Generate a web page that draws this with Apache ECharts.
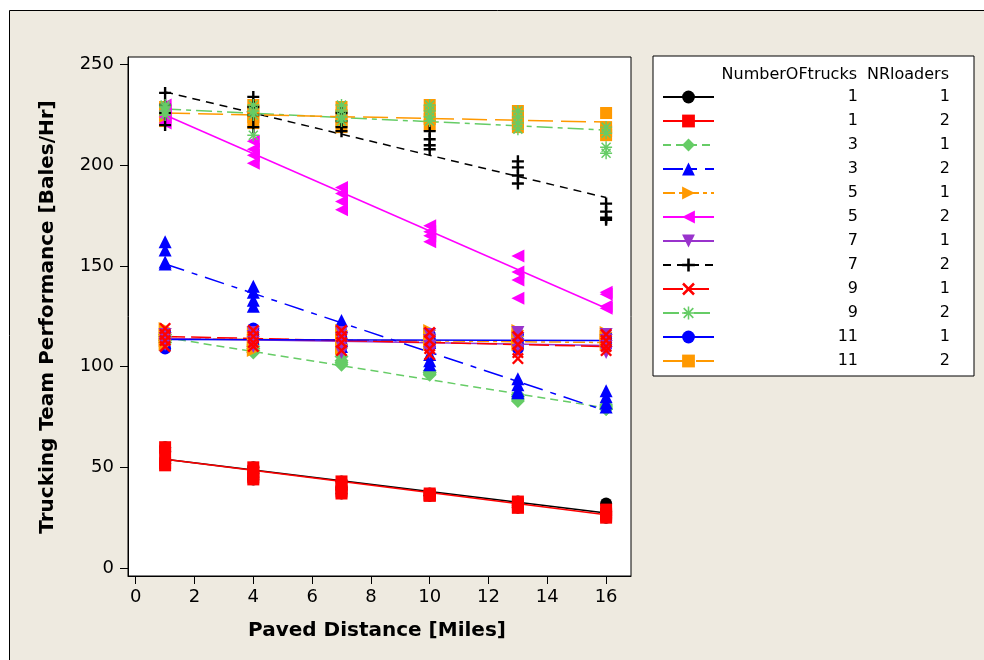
<!DOCTYPE html>
<html><head><meta charset="utf-8">
<script src="https://cdn.jsdelivr.net/npm/echarts@6/dist/echarts.min.js"></script>
<style>html,body{margin:0;padding:0;background:#fff}#c{width:984px;height:660px}</style>
</head><body><div id="c"></div>
<script>
// ---------------- data ----------------
const xValues = [1, 4, 7, 10, 13, 16];
const xTicks = [0, 2, 4, 6, 8, 10, 12, 14, 16];
const yTicks = [0, 50, 100, 150, 200, 250];
const numberOfTrucks = [1, 1, 3, 3, 5, 5, 7, 7, 9, 9, 11, 11];
const nrLoaders = [1, 2, 1, 2, 1, 2, 1, 2, 1, 2, 1, 2];

// replicate observations at each paved distance (rows follow xValues)
const t1l1 = [[60,58,53,52],[50,47,45,44],[43,40,39,37],[37,36,36,36],[33,31,30,30],[32,28,26,25]];
const t1l2 = [[60,57,52,51],[50,48,45,44],[43,41,38,37],[37,36,36,36],[33,32,30,30],[29,27,26,25]];
const t3l1 = [[116,115,113,112],[110,109,108,107],[105,103,102,101],[98,97,97,96],[86,85,84,83],[81,80,79,79]];
const t3l2 = [[162,158,152,151],[140,137,133,130],[123,120,113,110],[112,106,103,101],[94,91,88,87],[88,85,82,80]];
const t5l1 = [[119,116,113,111],[117,113,110,108],[118,114,111,109],[118,116,113,111],[118,115,113,111],[117,115,113,111]];
const t5l2 = [[230,227,224,221],[212,208,205,201],[189,186,182,178],[170,167,165,162],[155,147,143,134],[137,136,130,129]];
const t7l1 = [[116,114,112,111],[117,115,112,110],[117,114,110,107],[116,113,110,107],[117,114,111,108],[116,113,110,107]];
const t7l2 = [[236,230,226,220],[234,229,225,219],[226,222,219,217],[217,213,210,208],[202,199,195,191],[181,177,174,173]];
const t9l1 = [[119,116,113,110],[118,115,112,110],[118,115,112,108],[117,113,109,106],[115,111,107,104],[116,113,110,108]];
const t9l2 = [[230,229,227,225],[230,227,225,215],[230,227,224,222],[230,227,224,222],[227,224,221,218],[219,216,209,206]];
const t11l1 = [[117,114,112,109],[119,116,113,111],[117,114,111,110],[116,114,112,110],[116,113,111,109],[116,114,112,110]];
const t11l2 = [[229,227,225,222],[230,227,224,221],[229,225,222,219],[230,227,223,220],[227,224,221,219],[226,219,217,215]];

// fitted line values read at x = 1 and x = 16
const fitX = [1, 16];
const fitAtStart = [54, 54, 114.5, 151, 114, 225, 114, 236.5, 115, 228, 113.5, 226];
const fitAtEnd   = [27.3, 26.5, 79.5, 78, 112, 129, 110.5, 184, 110, 217.5, 113, 221.5];

const groups = [t1l1, t1l2, t3l1, t3l2, t5l1, t5l2, t7l1, t7l2, t9l1, t9l2, t11l1, t11l2];

// ---------------- styles ----------------
const FONT = 'DejaVu Sans';
const PLUS = 'path://M4,0H6V10H4Z M0,4H10V6H0Z';
const CROSS = 'path://M0,1.4L1.4,0L10,8.6L8.6,10Z M8.6,0L10,1.4L1.4,10L0,8.6Z';
const STAR = 'path://M4.4,0H5.6V10H4.4Z M0,4.4H10V5.6H0Z M0.8,1.7L1.7,0.8L9.2,8.3L8.3,9.2Z M8.3,0.8L9.2,1.7L1.7,9.2L0.8,8.3Z';
const styles = [
  {color:'#000000', symbol:'circle',   size:12, rot:0,   dash:'solid'},
  {color:'#FF0000', symbol:'rect',     size:12, rot:0,   dash:'solid'},
  {color:'#66CC66', symbol:'diamond',  size:14, rot:0,   dash:[8,5]},
  {color:'#0000FF', symbol:'triangle', size:13, rot:0,   dash:[20,8,6,8]},
  {color:'#FF9900', symbol:'triangle', size:13, rot:-90, dash:[12,4,4,4]},
  {color:'#FF00FF', symbol:'triangle', size:13, rot:90,  dash:'solid'},
  {color:'#9933CC', symbol:'triangle', size:13, rot:180, dash:'solid'},
  {color:'#000000', symbol:PLUS,       size:12, rot:0,   dash:[8,6]},
  {color:'#FF0000', symbol:CROSS,      size:12, rot:0,   dash:[20,6]},
  {color:'#66CC66', symbol:STAR,       size:12, rot:0,   dash:[16,5,5,5]},
  {color:'#0000FF', symbol:'circle',   size:12, rot:0,   dash:'solid'},
  {color:'#FF9900', symbol:'rect',     size:12, rot:0,   dash:[25,8]}
];

const names = numberOfTrucks.map((t, i) => t + ',' + nrLoaders[i]);

const series = [];
// fitted lines (first, so the legend uses them)
names.forEach((nm, i) => {
  const s = styles[i];
  series.push({
    name: nm, type: 'line', z: 2,
    data: [[fitX[0], fitAtStart[i]], [fitX[1], fitAtEnd[i]]],
    symbol: s.symbol, symbolSize: s.size, symbolRotate: s.rot, showSymbol: false,
    lineStyle: {color: s.color, width: 1.5, type: s.dash},
    itemStyle: {color: s.color},
    silent: true, animation: false
  });
});
// replicate points; draw order places 11-truck groups underneath
const drawOrder = [10, 11, 0, 1, 2, 3, 4, 5, 6, 7, 8, 9];
drawOrder.forEach(i => {
  const s = styles[i];
  const pts = [];
  groups[i].forEach((reps, k) => reps.forEach(v => pts.push([xValues[k], v])));
  series.push({
    name: names[i], type: 'scatter', z: 3,
    data: pts,
    symbol: s.symbol, symbolSize: s.size, symbolRotate: s.rot,
    itemStyle: {color: s.color, opacity: 1},
    silent: true, animation: false
  });
});

const chart = echarts.init(document.getElementById('c'), null, {renderer: 'canvas'});
chart.setOption({
  backgroundColor: '#ffffff',
  animation: false,
  grid: {left: 128, top: 57, width: 503, height: 519, show: true,
         backgroundColor: '#ffffff', borderColor: '#000', borderWidth: 1},
  xAxis: {
    type: 'value', min: -0.262, max: 16.847,
    axisLine: {show: true, onZero: false, lineStyle: {color: '#000', width: 1}},
    axisTick: {show: true, inside: false, length: 8, lineStyle: {color: '#000', width: 1}, customValues: xTicks},
    axisLabel: {show: true, margin: 12, fontSize: 18, color: '#000', fontFamily: FONT, customValues: xTicks},
    splitLine: {show: false}
  },
  yAxis: {
    type: 'value', min: -3.98, max: 253.83,
    axisLine: {show: true, onZero: false, lineStyle: {color: '#000', width: 1}},
    axisTick: {show: true, inside: false, length: 8, lineStyle: {color: '#000', width: 1}, customValues: yTicks},
    axisLabel: {show: true, margin: 14, fontSize: 18, color: '#000', fontFamily: FONT, customValues: yTicks},
    splitLine: {show: false}
  },
  legend: {
    orient: 'vertical', left: 653, top: 56,
    padding: [33, 24, 7, 9], itemWidth: 51, itemHeight: 16, itemGap: 8,
    backgroundColor: '#ffffff', borderColor: '#000', borderWidth: 1, borderRadius: 0,
    selectedMode: false, data: names,
    textStyle: {fontFamily: FONT, fontSize: 16, color: '#000', lineHeight: 16,
      rich: {
        a: {width: 139, align: 'right', fontFamily: FONT, fontSize: 16, color: '#000', lineHeight: 16},
        b: {width: 92, align: 'right', fontFamily: FONT, fontSize: 16, color: '#000', lineHeight: 16}
      }},
    formatter: nm => { const p = nm.split(','); return '{a|' + p[0] + '}{b|' + p[1] + '}'; }
  },
  graphic: [
    {type: 'rect', z: -100, silent: true, shape: {x: 9.5, y: 10.5, width: 1000, height: 700},
     style: {fill: '#EEEAE0', stroke: '#000', lineWidth: 1}},
    {type: 'text', z: 100, silent: true, x: 857, y: 75,
     style: {text: 'NumberOFtrucks', font: '16px "DejaVu Sans"', fill: '#000', textAlign: 'right', textVerticalAlign: 'middle'}},
    {type: 'text', z: 100, silent: true, x: 949, y: 75,
     style: {text: 'NRloaders', font: '16px "DejaVu Sans"', fill: '#000', textAlign: 'right', textVerticalAlign: 'middle'}},
    {type: 'text', z: 100, silent: true, x: 377, y: 631,
     style: {text: 'Paved Distance [Miles]', font: 'bold 20px "DejaVu Sans"', fill: '#000', textAlign: 'center', textVerticalAlign: 'middle'}},
    {type: 'text', z: 100, silent: true, x: 48, y: 317, rotation: Math.PI / 2,
     style: {text: 'Trucking Team Performance [Bales/Hr]', font: 'bold 20px "DejaVu Sans"', fill: '#000', textAlign: 'center', textVerticalAlign: 'middle'}}
  ],
  series: series
});
</script></body></html>
